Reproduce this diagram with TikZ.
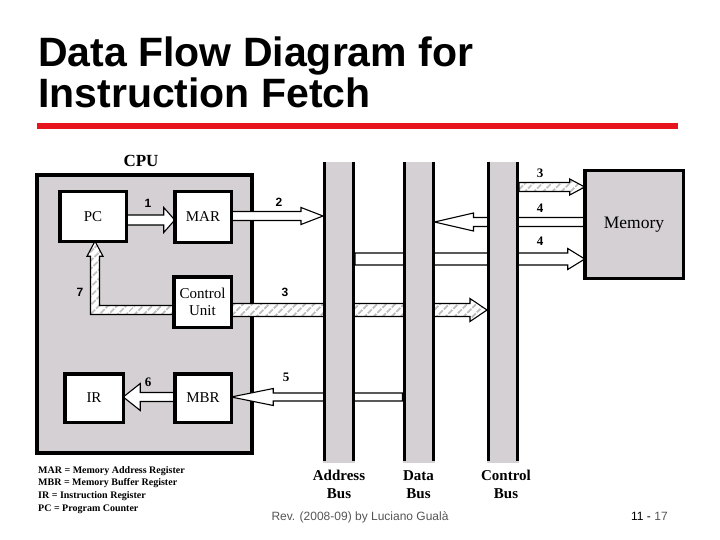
\documentclass[tikz,border=0pt]{standalone}
\usepackage{fontspec}
\setmainfont{Liberation Serif}
\setsansfont{Liberation Sans}
\usetikzlibrary{positioning,calc,patterns.meta}
\definecolor{BoxGray}{RGB}{212,208,212}
\definecolor{SlideRed}{RGB}{232,20,28}
\definecolor{FootGray}{RGB}{85,85,85}
\pgfdeclarelayer{back}
\pgfdeclarelayer{mid}
\pgfsetlayers{back,mid,main}
\tikzset{
  reg/.style={draw,line width=3.5pt,fill=white,inner sep=0pt,outer sep=0pt,align=center,
    font=\fontsize{15}{17}\selectfont},
  bus/.style={fill=BoxGray,inner sep=0pt,outer sep=0pt,minimum width=32pt,minimum height=301pt},
  busname/.style={font=\bfseries\fontsize{15}{18}\selectfont,align=center,inner sep=0pt},
  num/.style={font=\sffamily\bfseries\fontsize{12}{12}\selectfont,inner sep=0pt},
  numserif/.style={font=\bfseries\fontsize{13}{13}\selectfont,inner sep=0pt},
  plainarr/.style={draw,line width=1.1pt,fill=white},
  hatcharr/.style={draw,line width=1.1pt,preaction={fill=white},
    pattern={Lines[angle=45,distance=6.5pt,line width=2.2pt]},pattern color=black!25},
}
% block arrow: from, to, y, half shaft, half head, head length (minus = leftward)
\newcommand{\flowarrow}[7][plainarr]{%
  \draw[#1] let \p1=(#2 |- 0,#4), \p2=(#3 |- 0,#4) in
    (\x1,{\y1+#5pt}) -- ({\x2-(#7pt)},{\y1+#5pt}) -- ({\x2-(#7pt)},{\y1+#6pt}) -- (\x2,\y1)
    -- ({\x2-(#7pt)},{\y1-#6pt}) -- ({\x2-(#7pt)},{\y1-#5pt}) -- (\x1,{\y1-#5pt}) -- cycle;}

\begin{document}
\begin{tikzpicture}[x=1pt,y=-1pt]
\useasboundingbox (0,0) rectangle (720,540);

% title
\node[font=\sffamily\bfseries\fontsize{41}{41}\selectfont,anchor=base west,inner sep=0pt] (title1) at (38,67) {Data Flow Diagram for};
\node[font=\sffamily\bfseries\fontsize{41}{41}\selectfont,anchor=base west,inner sep=0pt] (title2) at (38,108) {Instruction Fetch};
\fill[SlideRed] (37,123) rectangle (678,129);

% cpu
\begin{pgfonlayer}{back}
\node[draw,line width=4pt,fill=BoxGray,minimum width=215pt,minimum height=278pt,inner sep=0pt] (cpu) at (144.5,314) {};
\end{pgfonlayer}
\node[font=\bfseries\fontsize{17}{17}\selectfont,inner sep=0pt] (cpulbl) at (141,161) {CPU};

\node[reg,minimum width=66.5pt,minimum height=49.5pt] (pc) at (93,216.5) {PC};
\node[reg,minimum width=56.5pt,minimum height=50.5pt] (mar) at (203,217) {MAR};
\node[reg,minimum width=57.5pt,minimum height=50.5pt] (cu) at (202.5,302) {Control\\Unit};
\node[reg,minimum width=58.5pt,minimum height=48.5pt] (ir) at (94,398) {IR};
\node[reg,minimum width=56.5pt,minimum height=48.5pt] (mbr) at (203,398) {MBR};
\node[reg,fill=BoxGray,minimum width=98.5pt,minimum height=107.5pt,font=\fontsize{17.5}{18}\selectfont] (mem) at (634,224.5) {Memory};

% buses
\node[bus] (abus) at (339,312.5) {};
\node[bus] (dbus) at (418.5,312.5) {};
\node[bus] (cbus) at (503,312.5) {};
\foreach \b in {abus,dbus,cbus}{
  \draw[line width=3pt] ([xshift=1.5pt]\b.north west) -- ([xshift=1.5pt,yshift=2pt]\b.south west);
  \draw[line width=3pt] ([xshift=-1.5pt]\b.north east) -- ([xshift=-1.5pt,yshift=2pt]\b.south east);
}
\node[busname,below=7pt of abus] (abuslbl) {Address\\Bus};
\node[busname,below=7pt of dbus] (dbuslbl) {Data\\Bus};
\node[busname,below=7pt of cbus,xshift=3pt] (cbuslbl) {Control\\Bus};

% data flows
\begin{pgfonlayer}{mid}
\flowarrow{pc.east}{mar.west}{220}{5}{12.5}{11}
\flowarrow{mar.east}{abus.west}{216}{4.5}{8.5}{22}
\flowarrow[hatcharr]{cbus.east}{mem.west}{187}{4.5}{8}{15}
\flowarrow{mem.west}{dbus.east}{222}{4.5}{9}{-39}
\flowarrow{abus.east}{mem.west}{259}{6}{10.5}{17}
\flowarrow[hatcharr]{cu.east}{cbus.west}{310}{6.5}{11.5}{17}
\flowarrow{dbus.west}{mbr.east}{397}{4}{8.5}{-42}
\flowarrow{mbr.west}{ir.east}{397}{4.5}{13.5}{-17}
\draw[hatcharr] let \p1=(cu.west |- 0,310), \p2=($(pc.south)+(2,0)$) in
  (\x1,{\y1+4.5pt}) -- ({\x2+4.5pt},{\y1+4.5pt}) -- ({\x2+4.5pt},{\y2-15pt}) -- ({\x2+8pt},{\y2-15pt})
  -- (\x2,\y2) -- ({\x2-8pt},{\y2-15pt}) -- ({\x2-4.5pt},{\y2-15pt}) -- ({\x2-4.5pt},{\y1-4.5pt})
  -- (\x1,{\y1-4.5pt}) -- cycle;
\end{pgfonlayer}

% step numbers
\node[num] (n1) at (148,203) {1};
\node[num] (n2) at (279,202) {2};
\node[num] (n3a) at (285,292) {3};
\node[num] (n7) at (80,292) {7};
\node[numserif] (n3b) at (540,173) {3};
\node[numserif] (n4a) at (540,208) {4};
\node[numserif] (n4b) at (540,241) {4};
\node[numserif] (n5) at (286,377) {5};
\node[numserif] (n6) at (148,382) {6};

% legend and footer
\node[font=\bfseries\fontsize{10}{12.8}\selectfont,align=left,anchor=north west,inner sep=0pt] (legend) at (38,466)
  {MAR = Memory Address Register\\MBR = Memory Buffer Register\\IR = Instruction Register\\PC = Program Counter};
\node[font=\sffamily\fontsize{12}{12}\selectfont,text=FootGray,anchor=base,inner sep=0pt] (rev) at (360,520) {Rev. (2008-09) by Luciano Gualà};
\node[font=\sffamily\fontsize{12}{12}\selectfont,anchor=base west,inner sep=0pt] (page) at (631,520) {11 - \textcolor{FootGray}{17}};
\end{tikzpicture}
\end{document}
